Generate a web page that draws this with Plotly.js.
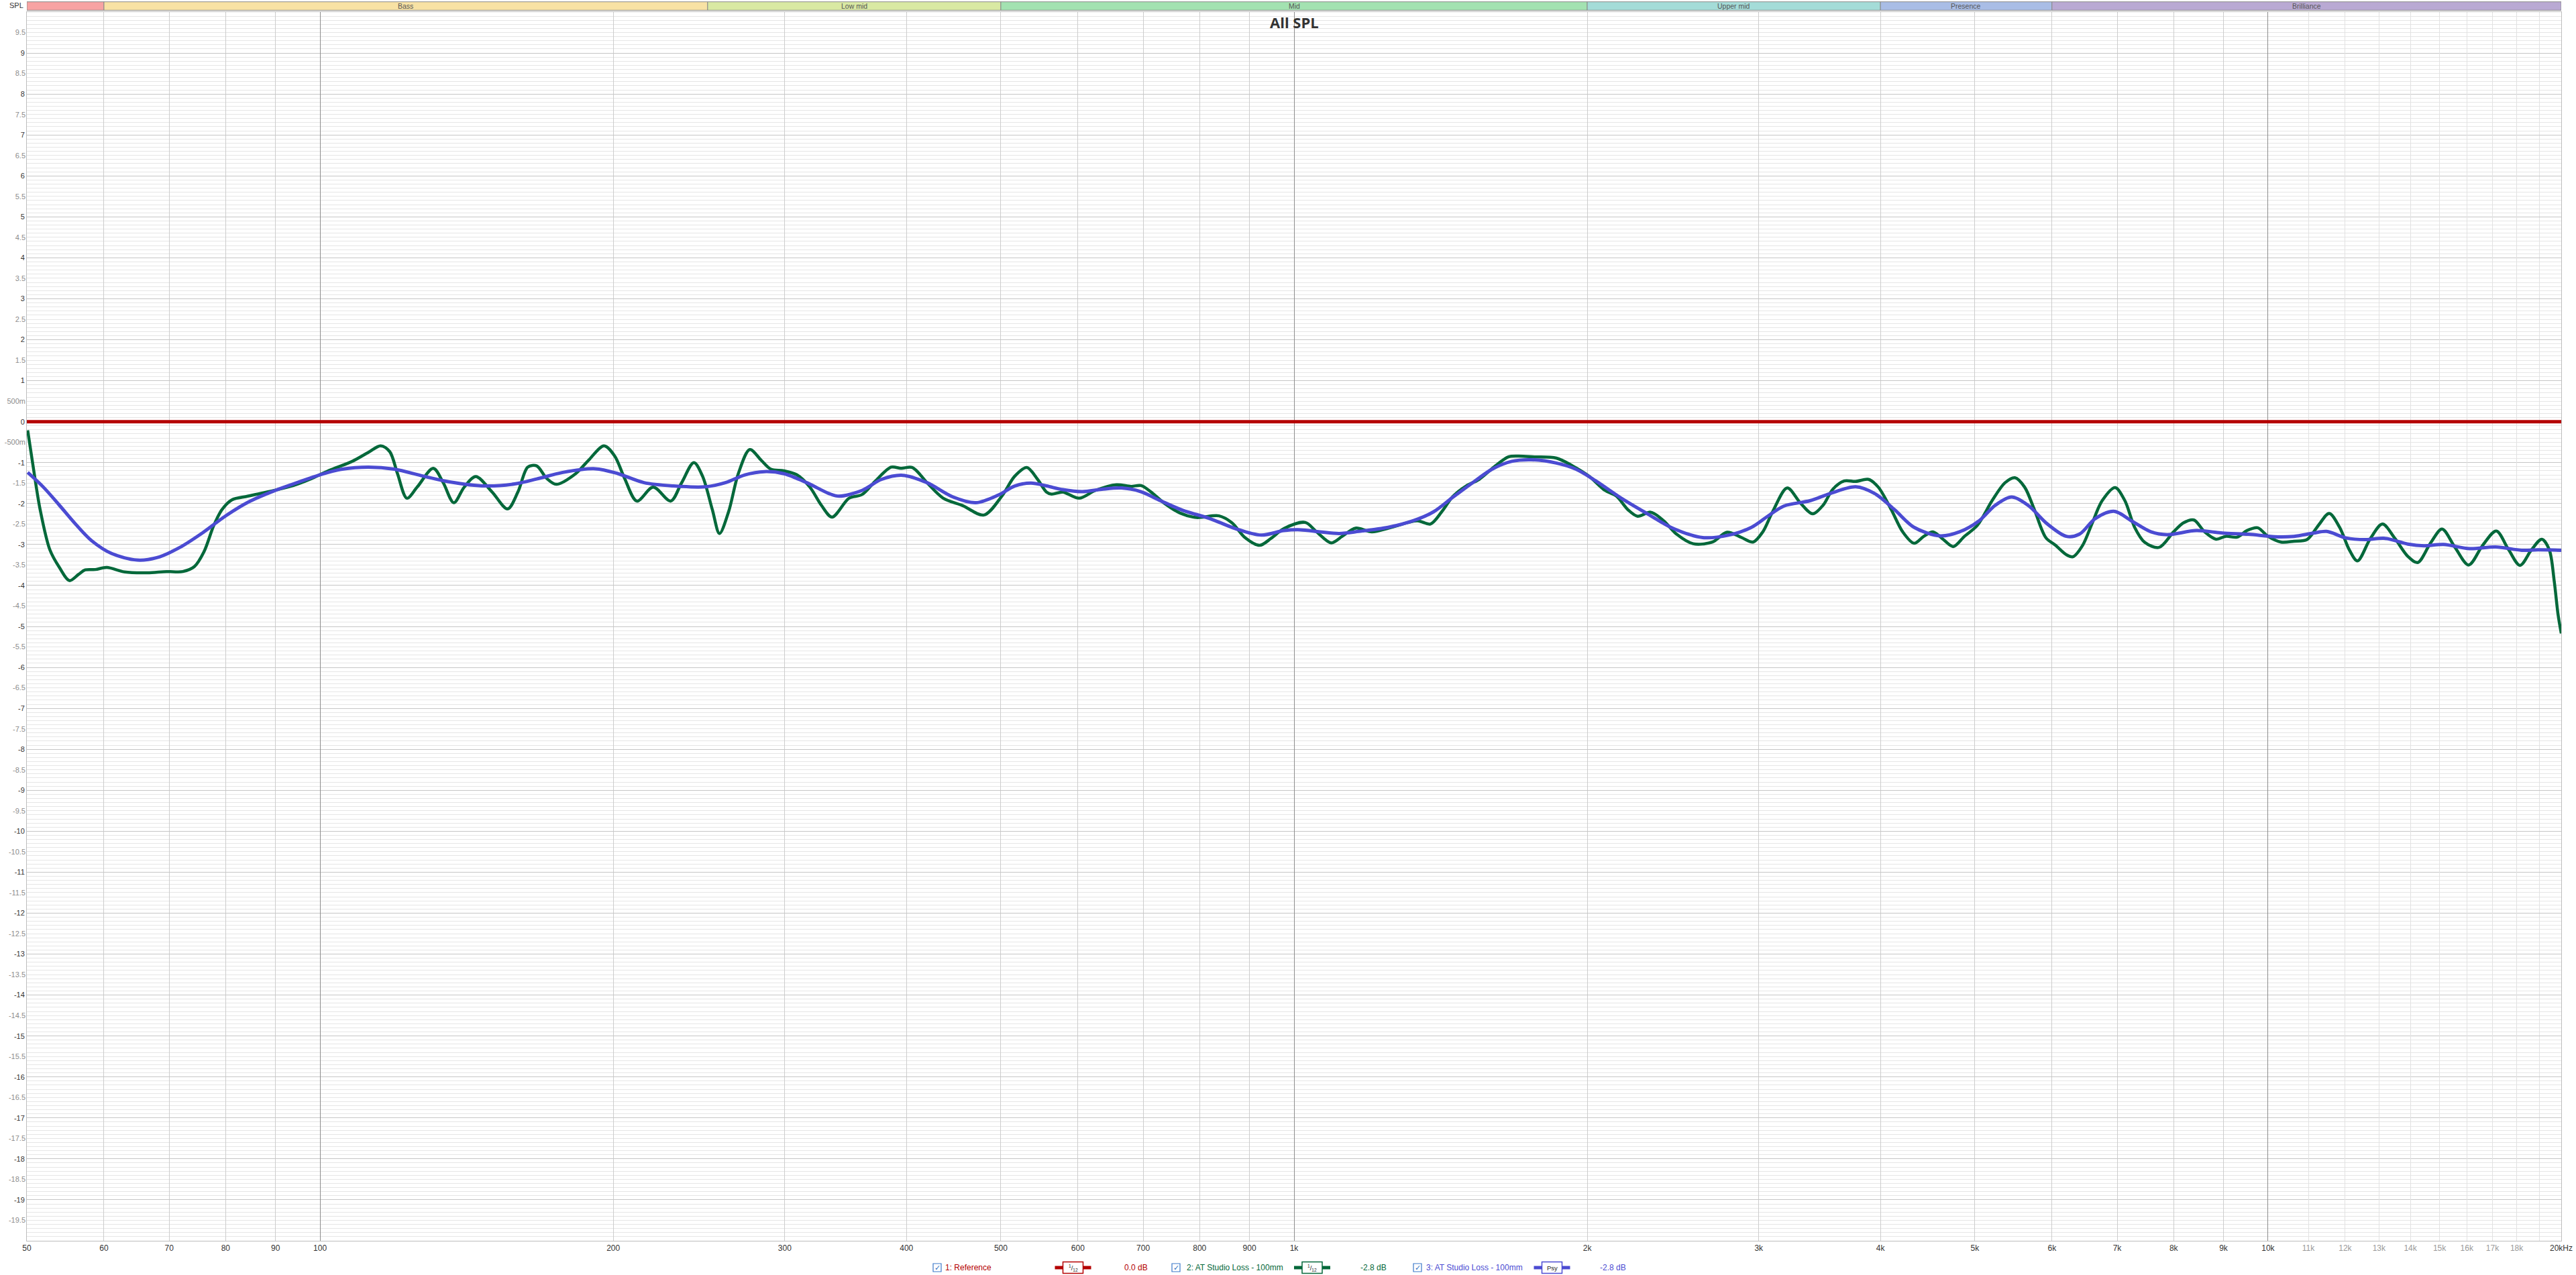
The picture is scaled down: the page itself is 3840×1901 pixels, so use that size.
<!DOCTYPE html>
<html><head><meta charset="utf-8">
<script src="https://cdn.plot.ly/plotly-3.0.1.min.js"></script>
<style>html,body{margin:0;padding:0;background:#fff}#chart{width:3840px;height:1901px}</style>
</head><body><div id="chart"></div>
<script>
// ---------------- data ----------------
const refFreq = [50, 20000];
const refSPL = [0, 0];

const lossFreq = [50.1, 50.8, 51.6, 52.8, 54.0, 55.3, 56.5, 57.4, 58.8, 60.4, 63.0, 66.5, 69.6, 72.3, 74.3, 76.0, 77.8, 79.3, 81.2, 84.3, 89.7, 93.9, 97.6, 102.2, 107.9, 112.1, 115.4, 117.9, 120.1, 122.8, 125.8, 130.7, 133.8, 137.2, 140.6, 144.5, 150.1, 155.8, 159.7, 163.4,
  166.9, 170.8, 174.8, 183.0, 188.7, 195.7, 200.7, 205.4, 211.5, 219.8, 229.1, 235.0, 242.0, 247.0, 252.8, 257.1, 262.7, 268.8, 276.2, 283.7, 290.3, 299.4, 308.8, 318.4, 327.1, 335.5, 349.2, 360.1, 371.3, 385.9, 394.9, 405.7, 419.9, 436.4, 456.9, 480.4, 501.1, 516.8, 531.7, 545.4,
  557.1, 563.6, 578.9, 601.6, 625.2, 657.2, 680.4, 696.3, 712.5, 734.8, 763.6, 793.6, 837.4, 863.5, 890.5, 921.8, 947.1, 976.5, 1026.7, 1054.7, 1091.8, 1120.7, 1156.5, 1201.9, 1258.7, 1338.5, 1380.3, 1417.9, 1456.6, 1502.1, 1548.9, 1609.6, 1660.0, 1698.8, 1765.3,
  1859, 1932, 2008, 2086, 2143, 2202, 2253, 2323, 2396, 2471, 2568, 2689, 2783, 2881, 2960, 3029, 3100, 3209, 3309, 3408, 3493, 3574, 3671, 3772, 3889, 3980, 4104, 4216, 4331, 4432, 4529, 4642, 4750, 4879, 5031, 5208, 5371, 5497, 5625, 5756, 5913, 6051,
  6208, 6304, 6451, 6601, 6756, 6966, 7129, 7295, 7466, 7729, 8000, 8188, 8391, 8607, 8843, 9049, 9295, 9512, 9757, 9999, 10311, 10634, 10965, 11266, 11556, 11843, 12119, 12354, 12739, 13107, 13496, 13918, 14244, 14687, 15088, 15558, 16069, 16609, 17154, 17663, 18143, 18640, 19104, 19444, 19670, 19850, 20000];
const lossSPL = [-0.21, -1.16, -2.15, -3.13, -3.56, -3.88, -3.73, -3.62, -3.61, -3.56, -3.67, -3.69, -3.66, -3.66, -3.54, -3.18, -2.53, -2.15, -1.91, -1.82, -1.68, -1.56, -1.41, -1.19, -0.97, -0.75, -0.59, -0.73, -1.27, -1.87, -1.60, -1.14, -1.49, -1.98, -1.60, -1.34, -1.71, -2.13, -1.71, -1.11,
  -1.08, -1.38, -1.53, -1.27, -0.94, -0.59, -0.84, -1.38, -1.94, -1.60, -1.94, -1.50, -1.00, -1.33, -2.15, -2.73, -2.20, -1.27, -0.68, -0.94, -1.16, -1.20, -1.30, -1.60, -2.04, -2.33, -1.87, -1.78, -1.46, -1.11, -1.14, -1.12, -1.49, -1.87, -2.05, -2.28, -1.82, -1.33, -1.12, -1.41,
  -1.72, -1.77, -1.72, -1.87, -1.68, -1.54, -1.58, -1.56, -1.71, -1.98, -2.23, -2.34, -2.30, -2.47, -2.83, -3.02, -2.85, -2.61, -2.46, -2.69, -2.96, -2.80, -2.60, -2.69, -2.58, -2.42, -2.50, -2.20, -1.82, -1.57, -1.41, -1.08, -0.86, -0.84, -0.86,
  -0.89, -1.08, -1.33, -1.68, -1.82, -2.15, -2.31, -2.21, -2.42, -2.75, -2.98, -2.94, -2.70, -2.83, -2.94, -2.69, -2.20, -1.62, -1.98, -2.25, -2.04, -1.65, -1.45, -1.46, -1.41, -1.60, -2.15, -2.69, -2.97, -2.80, -2.69, -2.88, -3.05, -2.80, -2.53, -1.93, -1.49, -1.37, -1.60, -2.15, -2.83, -3.02,
  -3.25, -3.30, -3.02, -2.47, -1.93, -1.61, -1.93, -2.58, -2.94, -3.07, -2.69, -2.47, -2.40, -2.69, -2.87, -2.80, -2.82, -2.66, -2.59, -2.80, -2.94, -2.92, -2.88, -2.53, -2.24, -2.58, -3.13, -3.40, -2.85, -2.50, -2.85, -3.29, -3.44, -2.96, -2.62, -3.07, -3.50, -3.02, -2.67, -3.13, -3.51, -3.13, -2.87, -3.13, -3.89, -4.71, -5.17];

const psyFreq = [50.1, 52.0, 54.0, 56.1, 58.3, 61.1, 64.9, 68.0, 71.8, 75.7, 79.9, 84.3, 89.7, 94.7, 99.9, 105.4, 112.1, 119.2, 127.7, 135.8, 147.8, 158.4,
  166.9, 177.5, 191.7, 202.3, 215.1, 230.5, 248.9, 260.7, 273.0, 285.9, 299.4, 316.0, 333.4, 341.2, 360.1, 377.1, 396.4, 419.9, 446.6, 471.2, 497.3, 516.8, 537.0,
  557.1, 578.9, 606.3, 634.9, 664.8, 696.3, 729.2, 769.5, 818.3, 870.2, 925.4, 976.5, 1014.9, 1062.8, 1112.9, 1165.5, 1249.0, 1328.3, 1391.0, 1456.6, 1525.3, 1597.3, 1672.8, 1751.7,
  1859, 1947, 2039, 2168, 2306, 2452, 2628, 2794, 2949, 3064, 3184, 3387, 3547, 3772, 3949, 4136, 4331, 4606, 4823, 5051, 5249, 5454, 5669, 5936,
  6208, 6401, 6652, 6956, 7239, 7581, 7877, 8443, 8979, 9549, 10154, 10634, 11136, 11484, 12027, 12594, 13188, 13918, 14463, 15146, 16106, 17127, 18213, 18929, 20000];
const psySPL = [-1.24, -1.60, -2.04, -2.50, -2.91, -3.22, -3.38, -3.32, -3.07, -2.72, -2.31, -1.97, -1.69, -1.49, -1.30, -1.16, -1.11, -1.16, -1.33, -1.47, -1.57, -1.52,
  -1.40, -1.24, -1.15, -1.27, -1.49, -1.57, -1.59, -1.49, -1.30, -1.22, -1.27, -1.49, -1.76, -1.82, -1.68, -1.41, -1.31, -1.49, -1.84, -1.98, -1.79, -1.57, -1.50,
  -1.57, -1.66, -1.71, -1.65, -1.62, -1.71, -1.93, -2.17, -2.36, -2.61, -2.77, -2.66, -2.64, -2.69, -2.73, -2.68, -2.58, -2.41, -2.20, -1.84, -1.49, -1.16, -0.97, -0.93,
  -1.01, -1.16, -1.44, -1.87, -2.25, -2.61, -2.83, -2.77, -2.58, -2.31, -2.06, -1.93, -1.76, -1.59, -1.76, -2.15, -2.58, -2.79, -2.69, -2.42, -2.04, -1.84, -2.04, -2.50,
  -2.80, -2.75, -2.36, -2.19, -2.42, -2.69, -2.76, -2.66, -2.72, -2.75, -2.81, -2.80, -2.72, -2.68, -2.84, -2.88, -2.85, -2.99, -3.03, -3.00, -3.10, -3.06, -3.14, -3.13, -3.14];

const bandNames = ['', 'Bass', 'Low mid', 'Mid', 'Upper mid', 'Presence', 'Brilliance'];
const bandStart = [50, 60, 250, 500, 2000, 4000, 6000];
const bandEnd = [60, 250, 500, 2000, 4000, 6000, 20000];

const xMainTicks = [50, 60, 70, 80, 90, 200, 300, 400, 500, 600, 700, 800, 900, 2000, 3000, 4000, 5000, 6000, 7000, 8000, 9000, 20000];
const xMainLabels = ['50', '60', '70', '80', '90', '200', '300', '400', '500', '600', '700', '800', '900', '2k', '3k', '4k', '5k', '6k', '7k', '8k', '9k', '20kHz'];
const xDecadeTicks = [100, 1000, 10000];
const xDecadeLabels = ['100', '1k', '10k'];
const xFineTicks = [11000, 12000, 13000, 14000, 15000, 16000, 17000, 18000];
const xFineLabels = ['11k', '12k', '13k', '14k', '15k', '16k', '17k', '18k'];
const xUnlabelledTicks = [19000];

const yIntTicks = [9, 8, 7, 6, 5, 4, 3, 2, 1, 0, -1, -2, -3, -4, -5, -6, -7, -8, -9, -10, -11, -12, -13, -14, -15, -16, -17, -18, -19];
const yIntLabels = ['9', '8', '7', '6', '5', '4', '3', '2', '1', '0', '-1', '-2', '-3', '-4', '-5', '-6', '-7', '-8', '-9', '-10', '-11', '-12', '-13', '-14', '-15', '-16', '-17', '-18', '-19'];
const yHalfTicks = [9.5, 8.5, 7.5, 6.5, 5.5, 4.5, 3.5, 2.5, 1.5, 0.5, -0.5, -1.5, -2.5, -3.5, -4.5, -5.5, -6.5, -7.5, -8.5, -9.5, -10.5, -11.5, -12.5, -13.5, -14.5, -15.5, -16.5, -17.5, -18.5, -19.5];
const yHalfLabels = ['9.5', '8.5', '7.5', '6.5', '5.5', '4.5', '3.5', '2.5', '1.5', '500m', '-500m', '-1.5', '-2.5', '-3.5', '-4.5', '-5.5', '-6.5', '-7.5', '-8.5', '-9.5', '-10.5', '-11.5', '-12.5', '-13.5', '-14.5', '-15.5', '-16.5', '-17.5', '-18.5', '-19.5'];

const legendNames = ['1: Reference', '2: AT Studio Loss - 100mm', '3: AT Studio Loss - 100mm'];
const legendSmoothing = ['<sup>1</sup>/<sub>12</sub>', '<sup>1</sup>/<sub>12</sub>', 'Psy'];
const legendOffsets = ['0.0 dB', '-2.8 dB', '-2.8 dB'];

// ---------------- styles / layout ----------------
const seriesColors = ['#b40000', '#04683a', '#4b4bd2'];
const bandColors = ['#f7a3a3', '#f8e2a4', '#d9e9a3', '#a3e2b1', '#a4dcd8', '#a9bde6', '#b9a9d3'];
const W = 3840, H = 1901, ML = 40, MR = 22, MT = 18, MB = 51;
const PW = W - ML - MR, PH = H - MT - MB;
const px = x => (x - ML) / PW;
const py = y => (H - MB - y) / PH;
const LX = Math.log10(50), RX = Math.log10(20000);
const FONT = 'Liberation Sans, Arial, sans-serif';

const traces = [
  {x: refFreq, y: refSPL, type: 'scatter', mode: 'lines', line: {color: seriesColors[0], width: 5}, hoverinfo: 'skip'},
  {x: lossFreq, y: lossSPL, type: 'scatter', mode: 'lines', line: {color: seriesColors[1], width: 4.5, shape: 'spline', smoothing: 0.9}, hoverinfo: 'skip'},
  {x: psyFreq, y: psySPL, type: 'scatter', mode: 'lines', line: {color: seriesColors[2], width: 5, shape: 'spline', smoothing: 0.9}, hoverinfo: 'skip'}
];
// invisible carriers so that the overlaid tick/grid axes get their subplots
[['x2', 'y'], ['x3', 'y'], ['x', 'y2']].forEach(function (ax) {
  traces.push({x: refFreq, y: refSPL, xaxis: ax[0], yaxis: ax[1], type: 'scatter', mode: 'lines',
    line: {color: 'rgba(0,0,0,0)', width: 0}, opacity: 0, hoverinfo: 'skip', showlegend: false});
});

const shapes = [];
const annotations = [];

// frequency-band strip above the plot
const bandY0 = py(15.3), bandY1 = py(2.7);
for (let i = 0; i < bandNames.length; i++) {
  shapes.push({type: 'rect', xref: 'x', yref: 'paper', x0: bandStart[i], x1: bandEnd[i], y0: bandY0, y1: bandY1,
    fillcolor: bandColors[i], line: {color: '#8a8a8a', width: 1}, layer: 'above'});
  if (bandNames[i]) {
    annotations.push({xref: 'x', yref: 'paper', x: (Math.log10(bandStart[i]) + Math.log10(bandEnd[i])) / 2, y: (bandY0 + bandY1) / 2,
      text: bandNames[i], showarrow: false, xanchor: 'center', yanchor: 'middle', font: {family: FONT, size: 10.5, color: '#555'}});
  }
}

// title and axis name
annotations.push({xref: 'paper', yref: 'paper', x: 0.5, y: py(33), text: '<b>All SPL</b>', showarrow: false, xanchor: 'center', yanchor: 'middle',
  font: {family: 'Open Sans, sans-serif', size: 22, color: '#333'}});
annotations.push({xref: 'paper', yref: 'paper', x: px(37), y: py(8), text: 'SPL', showarrow: false, xanchor: 'right', yanchor: 'middle',
  font: {family: FONT, size: 11, color: '#333'}});

// bottom legend
const LY = 1890;
const chkX = [1397, 1753, 2113];
const nameX = [1407, 1767, 2124];
const symX = [1599.5, 1956, 2313.5];
const valX = [1693, 2047, 2404];
for (let i = 0; i < 3; i++) {
  shapes.push({type: 'rect', xref: 'paper', yref: 'paper', x0: px(chkX[i] - 6), x1: px(chkX[i] + 6), y0: py(LY + 6), y1: py(LY - 6),
    line: {color: '#3b78c9', width: 1.2}, fillcolor: '#fff'});
  annotations.push({xref: 'paper', yref: 'paper', x: px(chkX[i]), y: py(LY), text: '✓', showarrow: false, xanchor: 'center', yanchor: 'middle',
    font: {family: 'DejaVu Sans, sans-serif', size: 11, color: '#2d6fc0'}});
  annotations.push({xref: 'paper', yref: 'paper', x: px(nameX[i]), y: py(LY), text: legendNames[i], showarrow: false, xanchor: 'left', yanchor: 'middle',
    font: {family: FONT, size: 12, color: seriesColors[i]}});
  shapes.push({type: 'line', xref: 'paper', yref: 'paper', x0: px(symX[i] - 27), x1: px(symX[i] + 27), y0: py(LY), y1: py(LY),
    line: {color: seriesColors[i], width: 5}});
  shapes.push({type: 'rect', xref: 'paper', yref: 'paper', x0: px(symX[i] - 15), x1: px(symX[i] + 15), y0: py(LY + 8.5), y1: py(LY - 8.5),
    line: {color: seriesColors[i], width: 1.5}, fillcolor: '#fff'});
  annotations.push({xref: 'paper', yref: 'paper', x: px(symX[i]), y: py(LY), text: legendSmoothing[i], showarrow: false, xanchor: 'center', yanchor: 'middle',
    font: {family: FONT, size: 9.5, color: '#222'}});
  annotations.push({xref: 'paper', yref: 'paper', x: px(valX[i]), y: py(LY), text: legendOffsets[i], showarrow: false, xanchor: 'center', yanchor: 'middle',
    font: {family: FONT, size: 12, color: seriesColors[i]}});
}

const xCommon = {type: 'log', range: [LX, RX], tickmode: 'array', zeroline: false, ticks: '', fixedrange: true};
const layout = {
  width: W, height: H,
  margin: {l: ML, r: MR, t: MT, b: MB, pad: 0},
  paper_bgcolor: '#ffffff', plot_bgcolor: '#ffffff',
  showlegend: false,
  font: {family: FONT, color: '#333'},
  xaxis: Object.assign({}, xCommon, {tickvals: xMainTicks, ticktext: xMainLabels, showgrid: true, gridcolor: '#cdcdcd', gridwidth: 1,
    showline: true, linecolor: '#bdbdbd', linewidth: 1, mirror: true, tickfont: {family: FONT, size: 12, color: '#333'}}),
  xaxis2: Object.assign({}, xCommon, {overlaying: 'x', anchor: 'y', side: 'bottom', tickvals: xDecadeTicks, ticktext: xDecadeLabels,
    showgrid: true, gridcolor: '#8e8e8e', gridwidth: 1, showline: false, ticklabelstandoff: 2, tickfont: {family: FONT, size: 12, color: '#333'}}),
  xaxis3: Object.assign({}, xCommon, {overlaying: 'x', anchor: 'y', side: 'bottom', tickvals: xFineTicks, ticktext: xFineLabels,
    showgrid: true, gridcolor: '#e2e2e2', gridwidth: 1, showline: false, ticklabelstandoff: 2, tickfont: {family: FONT, size: 12, color: '#9a9a9a'},
    minor: {tickmode: 'array', tickvals: xUnlabelledTicks, showgrid: true, gridcolor: '#e2e2e2', gridwidth: 1, ticks: ''}}),
  yaxis: {range: [-20, 10], tickmode: 'array', tickvals: yIntTicks, ticktext: yIntLabels, showgrid: true, gridcolor: '#c6c6c6', gridwidth: 1,
    minor: {tickmode: 'linear', tick0: 0, dtick: 0.1, showgrid: true, gridcolor: '#e6e6e6', gridwidth: 1, ticks: ''},
    zeroline: false, showline: true, linecolor: '#bdbdbd', linewidth: 1, mirror: true, ticks: '', fixedrange: true,
    tickfont: {family: FONT, size: 11, color: '#333'}},
  yaxis2: {overlaying: 'y', anchor: 'x', side: 'left', range: [-20, 10], tickmode: 'array', tickvals: yHalfTicks, ticktext: yHalfLabels,
    showgrid: false, zeroline: false, showline: false, ticks: '', ticklabelstandoff: 1, fixedrange: true, tickfont: {family: FONT, size: 11, color: '#8c8c8c'}},
  shapes: shapes,
  annotations: annotations
};

Plotly.newPlot('chart', traces, layout, {displayModeBar: false, staticPlot: true});
</script>
</body></html>
